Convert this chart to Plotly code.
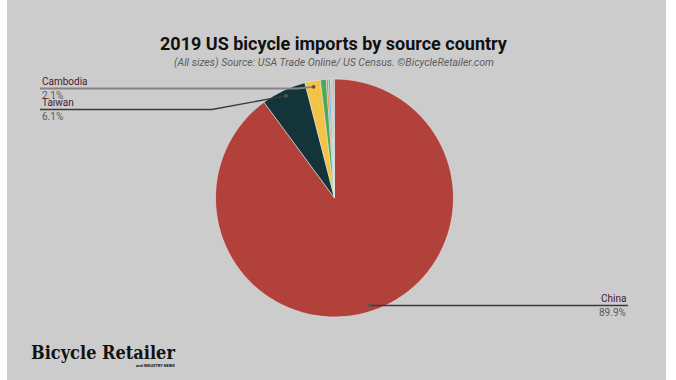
import math
import plotly.graph_objects as go

countries = ["China", "Taiwan", "Cambodia", "Vietnam", "Mexico", "Philippines", "Thailand", "Italy", "Other"]
shares = [89.9, 6.1, 2.1, 0.8, 0.25, 0.3, 0.2, 0.15, 0.2]
colors = ["#b2413b", "#13353a", "#f4c244", "#4fa85a", "#f0702a", "#56b6d8", "#93c456", "#e38fa5", "#a0a0a0"]
labeled = ["Cambodia", "Taiwan", "China"]

W, H = 676, 380
# pie geometry (pixels)
cx, cy, R = 334.5, 198.0, 119.0

fig = go.Figure(go.Pie(
    labels=countries, values=shares, sort=False, direction="clockwise", rotation=0,
    marker=dict(colors=colors, line=dict(color="#dfe6e6", width=0.6)),
    textinfo="none", hoverinfo="label+percent", showlegend=False,
    domain=dict(x=[(cx - R) / W, (cx + R) / W], y=[1 - (cy + R) / H, 1 - (cy - R) / H]),
))

def px(x):
    return x / W

def py(y):
    return 1 - y / H

# anchor points at slice mid-angles computed from data
total = sum(shares)
anchors = {}
cum = 0.0
for c, v in zip(countries, shares):
    mid = (cum + v / 2) / total * 2 * math.pi
    anchors[c] = (cx + 0.95 * R * math.sin(mid), cy - 0.95 * R * math.cos(mid))
    cum += v

shapes = [
    dict(type="rect", xref="paper", yref="paper", x0=0, x1=1, y0=0, y1=1,
         fillcolor="#ffffff", line=dict(width=0), layer="below"),
    dict(type="rect", xref="paper", yref="paper", x0=px(7), x1=px(666), y0=0, y1=1,
         fillcolor="#cccccc", line=dict(width=0), layer="below"),
]

# leader layouts: (label end x, line y, elbow x, text side, line colour, width)
leader = {
    "Cambodia": (40, 88.5, 297, "left", "#858585", 1.8),
    "Taiwan": (40, 109.5, 212, "left", "#3a3a3a", 1.3),
    "China": (628, 305.5, None, "right", "#3a3a3a", 1.3),
}
annotations = []
for c in labeled:
    ax_, ay_ = anchors[c]
    x_end, y_line, elbow, side, lc, lw = leader[c]
    if elbow is None:
        path_pts = [(ax_, y_line), (x_end, y_line)]
    else:
        path_pts = [(x_end, y_line), (elbow, y_line), (ax_, ay_)]
    pts = " L ".join(f"{px(a)},{py(b)}" for a, b in path_pts)
    shapes.append(dict(type="path", xref="paper", yref="paper", path="M " + pts,
                       line=dict(color=lc, width=lw)))
    shapes.append(dict(type="circle", xref="paper", yref="paper",
                       x0=px(ax_ - 1.8), x1=px(ax_ + 1.8), y0=py(ay_ + 1.8), y1=py(ay_ - 1.8),
                       fillcolor="#555555", line=dict(width=0)))
    i = countries.index(c)
    xa = "left" if side == "left" else "right"
    annotations.append(dict(text=c, x=px(x_end), y=py(y_line - 7), xref="paper", yref="paper",
                            xanchor=xa, yanchor="middle", showarrow=False,
                            font=dict(family="Roboto", size=10, color="#4a1733")))
    annotations.append(dict(text=f"{shares[i] / total * 100:.1f}%", x=px(x_end), y=py(y_line + 6.5),
                            xref="paper", yref="paper", xanchor=xa, yanchor="middle", showarrow=False,
                            font=dict(family="Roboto", size=10, color="#5a5a5a")))

annotations += [
    dict(text="<b>2019 US bicycle imports by source country</b>", x=px(334), y=py(43),
         xref="paper", yref="paper", xanchor="center", yanchor="middle", showarrow=False,
         font=dict(family="Roboto", size=18, color="#111111")),
    dict(text="<i>(All sizes) Source: USA Trade Online/ US Census. ©BicycleRetailer.com</i>",
         x=px(334), y=py(62), xref="paper", yref="paper", xanchor="center", yanchor="middle",
         showarrow=False, font=dict(family="Roboto", size=10.5, color="#5c5c5c")),
    dict(text="<b>Bicycle Retailer</b>", x=px(29), y=py(352), xref="paper", yref="paper",
         xanchor="left", yanchor="middle", showarrow=False,
         font=dict(family="DejaVu Serif Condensed", size=18, color="#111111")),
    dict(text="<b>and INDUSTRY NEWS</b>", x=px(177), y=py(365), xref="paper", yref="paper",
         xanchor="right", yanchor="middle", showarrow=False,
         font=dict(family="Roboto", size=4, color="#111111")),
]

fig.update_layout(
    width=W, height=H, margin=dict(l=0, r=0, t=0, b=0),
    paper_bgcolor="#ffffff", plot_bgcolor="#cccccc",
    shapes=shapes, annotations=annotations,
)
fig.write_html("out.html", config={"displayModeBar": False},
               post_script="document.body.style.margin='0';document.body.style.overflow='hidden';")
